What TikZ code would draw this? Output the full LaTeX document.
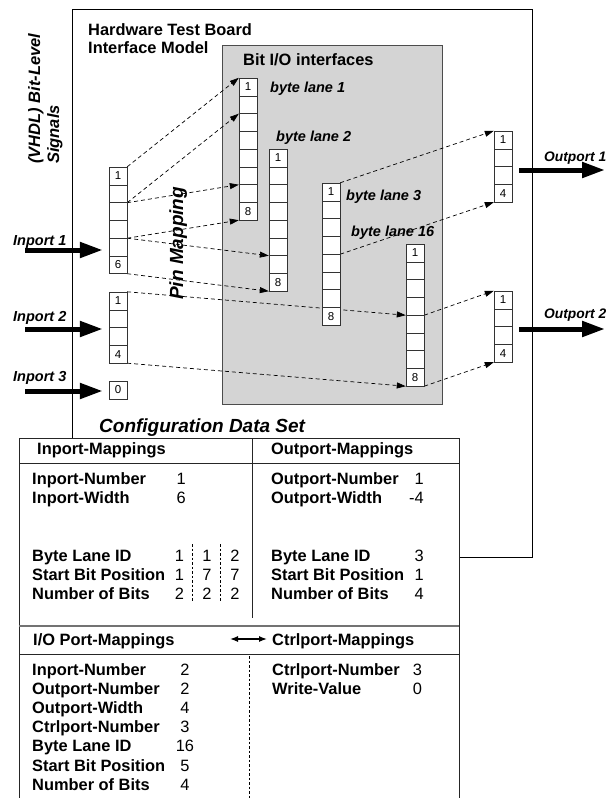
\documentclass[tikz,border=0pt]{standalone}
\usepackage{fontspec}
\setmainfont{Liberation Sans}
\usepackage{tikz}
\usetikzlibrary{arrows.meta,positioning,backgrounds}
\pgfdeclarelayer{links}
\pgfsetlayers{background,links,main}

\tikzset{
	cell/.style={draw=black!80, fill=white, minimum width=18pt, minimum height=17.75pt, inner sep=0pt, font=\fontsize{11.5}{12}\selectfont},
	title/.style={font=\bfseries\fontsize{16.4}{19}\selectfont, inner sep=0pt, anchor=base west},
	tag/.style={font=\bfseries\itshape\fontsize{14.5}{16}\selectfont, inner sep=0pt, anchor=base west},
	key/.style={font=\bfseries\fontsize{16.4}{19}\selectfont, inner sep=0pt, anchor=base west},
	val/.style={font=\fontsize{16.4}{19}\selectfont, inner sep=0pt, anchor=base},
	bus/.style={line width=5pt, -{Triangle[length=23pt,width=15pt]}},
	pinmap/.style={line width=0.7pt, dash pattern=on 4pt off 3pt, -{Triangle[length=9pt,width=6pt]}},
	rule/.style={draw=black!85, line width=1pt}
}

% register of bit cells: name, left x, top y, number of cells
\newcommand{\bitreg}[4]{%
	\foreach \k in {1,...,#4}
		\node[cell] (#1-\k) at ({#2+9},{#3+(\k-0.5)*17.75}) {\ifnum\k=1 1\else\ifnum\k=#4 #4\fi\fi};
}

\begin{document}
\begin{tikzpicture}[x=1pt,y=-1pt]
	\useasboundingbox (0,0) rectangle (608,798);
	\clip (0,0) rectangle (608,798);
	\begin{pgfonlayer}{background}
		\draw[black, line width=1pt] (72,9) rectangle (532,557);
		\draw[fill=black!17, draw=black!70, line width=1pt] (222,45) rectangle (442,404);
	\end{pgfonlayer}
	\node[title] (board) at (88,35) {Hardware Test Board};
	\node[title] (board-2) at (88,53.5) {Interface Model};
	\node[title] (bitio) at (243,65) {Bit I/O interfaces};
	\node[rotate=90, anchor=base west, inner sep=0pt, font=\bfseries\itshape\fontsize{16.5}{19}\selectfont] (vhdl) at (40,164) {(VHDL) Bit-Level};
	\node[rotate=90, anchor=base west, inner sep=0pt, font=\bfseries\itshape\fontsize{16.5}{19}\selectfont] (vhdl-2) at (59,164) {Signals};
	\node[rotate=90, anchor=base west, inner sep=0pt, font=\bfseries\itshape\fontsize{19}{22}\selectfont] (pinlabel) at (183,300) {Pin Mapping};
	% registers
	\bitreg{in1}{109}{167}{6}
	\bitreg{in2}{109}{292}{4}
	\node[cell] (in3-1) at (118,389.9) {0};
	\bitreg{bl1}{239}{78}{8}
	\bitreg{bl2}{269}{149}{8}
	\bitreg{bl3}{322}{183}{8}
	\bitreg{bl16}{406}{244}{8}
	\bitreg{out1}{494}{131}{4}
	\bitreg{out2}{494}{291}{4}
	\node[tag] (lane1) at (270,92) {byte lane 1};
	\node[tag] (lane2) at (276,141) {byte lane 2};
	\node[tag] (lane3) at (346,200) {byte lane 3};
	\node[tag] (lane16) at (351,236) {byte lane 16};
	% ports
	\node[tag] (inport1) at (13,245.5) {Inport 1};
	\node[tag] (inport2) at (13,321) {Inport 2};
	\node[tag] (inport3) at (13,381) {Inport 3};
	\node[tag, font=\bfseries\itshape\fontsize{13.8}{16}\selectfont] (outport1) at (544,161.5) {Outport 1};
	\node[tag, font=\bfseries\itshape\fontsize{13.8}{16}\selectfont] (outport2) at (544,318) {Outport 2};
	\coordinate (in1-src) at (25,250);
	\coordinate (in2-src) at (25,329);
	\coordinate (in3-src) at (25,391);
	\coordinate (out1-dst) at (605,170);
	\coordinate (out2-dst) at (605,329);
	\draw[bus, shorten >=6pt] (in1-src) -- (in1-src -| in1-1.west);
	\draw[bus, shorten >=6pt] (in2-src) -- (in2-src -| in2-1.west);
	\draw[bus, shorten >=6pt] (in3-src) -- (in3-src -| in3-1.west);
	\draw[bus, shorten <=7pt] (out1-dst -| out1-1.east) -- (out1-dst);
	\draw[bus, shorten <=7pt] (out2-dst -| out2-1.east) -- (out2-dst);
	% pin mapping
	\begin{pgfonlayer}{links}
		\draw[pinmap] (in1-1.north east) -- (bl1-1.north west);
		\draw[pinmap] (in1-2.south east) -- (bl1-2.south west);
		\draw[pinmap] (in1-2.south east) -- (bl1-6.south west);
		\draw[pinmap] (in1-4.south east) -- (bl1-8.south west);
		\draw[pinmap] (in1-4.south east) -- (bl2-6.south west);
		\draw[pinmap] (in1-6.south east) -- (bl2-8.south west);
		\draw[pinmap] (in2-1.north east) -- (bl16-4.south west);
		\draw[pinmap] (in2-4.south east) -- (bl16-8.south west);
		\draw[pinmap] (bl3-1.north east) -- (out1-1.north west);
		\draw[pinmap] (bl3-4.south east) -- (out1-4.south west);
		\draw[pinmap] (bl16-4.south east) -- (out2-1.north west);
		\draw[pinmap] (bl16-8.south east) -- (out2-4.south west);
	\end{pgfonlayer}
	% configuration data set
	\node[anchor=base west, inner sep=0pt, font=\bfseries\itshape\fontsize{19}{22}\selectfont] (config) at (99,432) {Configuration Data Set};
	\draw[rule, fill=white] (19,438) rectangle (459,810);
	\draw[rule] (19,463) -- (459,463);
	\draw[rule] (252,438) -- (252,618);
	\draw[draw=black!55, line width=2pt] (19,626) -- (459,626);
	\draw[rule] (19,654) -- (459,654);
	\draw[line width=1pt, dash pattern=on 2.5pt off 2pt] (192,544) -- (192,602);
	\draw[line width=1pt, dash pattern=on 2.5pt off 2pt] (220,544) -- (220,602);
	\draw[line width=1pt, dash pattern=on 2.5pt off 2pt] (249,656) -- (249,798);
	\node[key] (inmap) at (37,454) {Inport-Mappings};
	\node[key] (outmap) at (271,454) {Outport-Mappings};
	\node[key] (iomap) at (33,645.5) {I/O Port-Mappings};
	\node[key] (ctrlmap) at (272,645.5) {Ctrlport-Mappings};
	\coordinate (swap-l) at (230,639);
	\coordinate (swap-r) at (267,639);
	\draw[line width=1.3pt, {Latex[length=8pt,width=6pt]}-{Latex[length=8pt,width=6pt]}] (swap-l) -- (swap-r);
	% inport mapping
	\node[key] (k-inno) at (32,484) {Inport-Number};
	\node[key] (k-inw) at (32,503) {Inport-Width};
	\node[val, anchor=base west] (v-inno) at (176.5,484) {1};
	\node[val, anchor=base west] (v-inw) at (176.5,503) {6};
	\foreach \txt/\a/\b/\c [count=\i] in {Byte Lane ID/1/1/2, Start Bit Position/1/7/7, Number of Bits/2/2/2} {
		\node[key] (k-lane-\i) at (32,{542+\i*19}) {\txt};
		\node[val] (v-lane-\i-a) at (179.5,{542+\i*19}) {\a};
		\node[val] (v-lane-\i-b) at (207,{542+\i*19}) {\b};
		\node[val] (v-lane-\i-c) at (235,{542+\i*19}) {\c};
	}
	% outport mapping
	\foreach \txt/\v/\y in {Outport-Number/1/484, Outport-Width/-4/503, Byte Lane ID/3/561, Start Bit Position/1/580, Number of Bits/4/599} {
		\node[key] (k-out-\y) at (271,\y) {\txt};
		\node[val, anchor=base east] (v-out-\y) at (424,\y) {\v};
	}
	% i/o port mapping
	\foreach \txt/\v [count=\i] in {Inport-Number/2, Outport-Number/2, Outport-Width/4, Ctrlport-Number/3, Byte Lane ID/16, Start Bit Position/5, Number of Bits/4} {
		\node[key] (k-io-\i) at (32,{675+(\i-1)*19.2}) {\txt};
		\node[val] (v-io-\i) at (185,{675+(\i-1)*19.2}) {\v};
	}
	% ctrlport mapping
	\node[key] (k-ctrl) at (272,675) {Ctrlport-Number};
	\node[key] (k-write) at (272,694) {Write-Value};
	\node[val] (v-ctrl) at (417.5,675) {3};
	\node[val] (v-write) at (417.5,694) {0};
\end{tikzpicture}
\end{document}
